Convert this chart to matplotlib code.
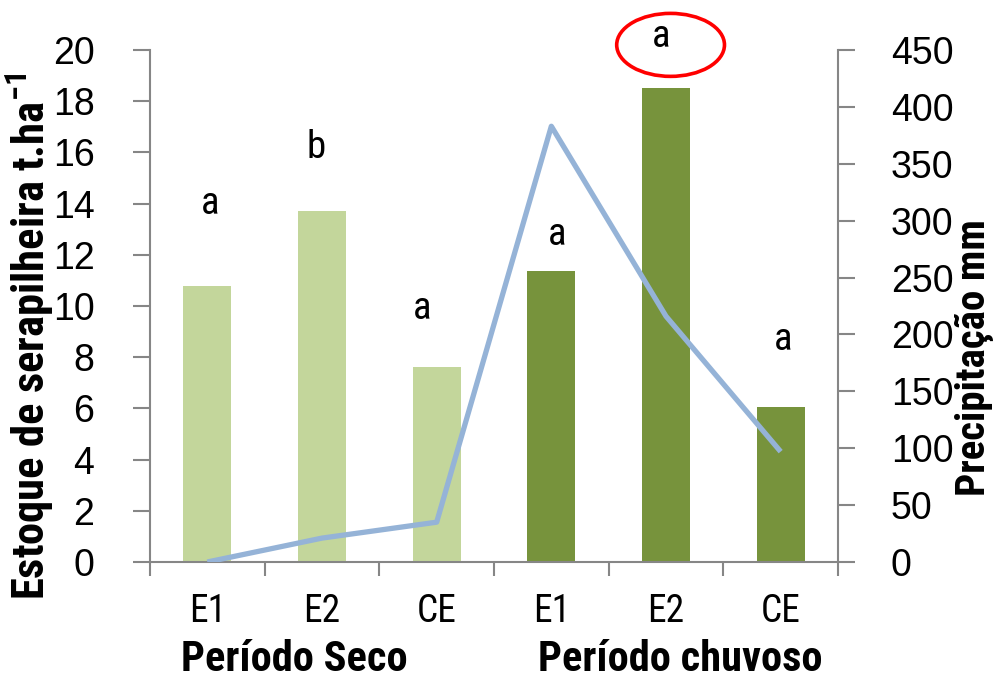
import matplotlib
matplotlib.use("Agg")
import matplotlib.pyplot as plt
from matplotlib.patches import Ellipse
from matplotlib.ticker import FixedLocator, NullFormatter

# data
categories = ["E1", "E2", "CE", "E1", "E2", "CE"]
estoque = [10.8, 13.7, 7.6, 11.35, 18.5, 6.05]
precipitacao = [0, 21, 35, 383, 216, 97]
letras = ["a", "b", "a", "a", "a", "a"]
letra_x = [0.02, 0.95, 1.87, 3.05, 3.96, 5.02]
letra_y = [13.6, 15.8, 9.5, 12.4, 20.1, 8.3]
periodos = ["Período Seco", "Período chuvoso"]
periodo_x = [0.755, 4.12]

LIGHT = "#C3D69B"
DARK = "#77933C"
LINE = "#95B3D7"
GREY = "#868686"
NARROW = ["Roboto Condensed", "PT Sans Narrow", "DejaVu Sans"]
REG = ["Liberation Sans", "DejaVu Sans"]

plt.rcParams["mathtext.fontset"] = "custom"
plt.rcParams["mathtext.rm"] = "Roboto Condensed:bold"
plt.rcParams["mathtext.default"] = "rm"

fig = plt.figure(figsize=(9.96, 6.79), dpi=100)
ax = fig.add_axes([150 / 996, 117 / 679, 688 / 996, 512 / 679])
ax2 = ax.twinx()

x = list(range(len(categories)))
colors = [LIGHT] * 3 + [DARK] * 3
ax.bar(x, estoque, width=0.42, color=colors, zorder=2)
ax2.plot(x, precipitacao, color=LINE, lw=3.8, solid_capstyle="butt", zorder=3)

ax.set_xlim(-0.5, 5.5)
ax.set_ylim(0, 20)
ax2.set_ylim(0, 450)
ax.set_yticks(range(0, 21, 2))
ax2.set_yticks(range(0, 451, 50))

for a in (ax, ax2):
    a.spines["top"].set_visible(False)
    for s in ("left", "right", "bottom"):
        a.spines[s].set_color(GREY)
        a.spines[s].set_linewidth(1.5)
ax.spines["right"].set_visible(False)
ax2.spines["left"].set_visible(False)
ax2.spines["bottom"].set_visible(False)

# category boundaries as ticks, labels at centres
ax.xaxis.set_major_locator(FixedLocator([i - 0.5 for i in range(len(categories) + 1)]))
ax.xaxis.set_major_formatter(NullFormatter())
ax.xaxis.set_minor_locator(FixedLocator(x))
ax.set_xticklabels(categories, minor=True)
ax.tick_params(axis="x", which="major", direction="out", length=10, width=1.5, color=GREY)
ax.tick_params(axis="x", which="minor", length=0, pad=22, labelsize=27)
for t in ax.get_xticklabels(minor=True):
    t.set_family(NARROW)

ax.tick_params(axis="y", direction="out", length=12, width=1.5, color=GREY, labelsize=27, pad=28)
ax2.tick_params(axis="y", direction="out", length=12, width=1.5, color=GREY, labelsize=27, pad=26)
for t in ax.get_yticklabels() + ax2.get_yticklabels():
    t.set_family(REG)

ax.set_ylabel("Estoque de serapilheira t.ha$^{-1}$", fontsize=32, fontweight="bold", family=NARROW)
ax.yaxis.set_label_coords(-0.137, 0.441)
ax2.set_ylabel("Precipitação mm", fontsize=29.5, fontweight="bold", family=NARROW)
ax2.yaxis.set_label_coords(1.170, 0.40)

for lx, ly, txt in zip(letra_x, letra_y, letras):
    ax.text(lx, ly, txt, ha="center", va="baseline", fontsize=28, family=NARROW, clip_on=False)

for px, txt in zip(periodo_x, periodos):
    ax.text(px, -0.19, txt, transform=ax.get_xaxis_transform(), ha="center", va="center",
            fontsize=30.5, fontweight="bold", family=NARROW)

ax.add_patch(Ellipse((4.04, 20.2), 0.94, 2.46, fill=False, edgecolor="#FF0000",
                     lw=2.6, clip_on=False, zorder=5))

fig.savefig("out.png", dpi=100)
